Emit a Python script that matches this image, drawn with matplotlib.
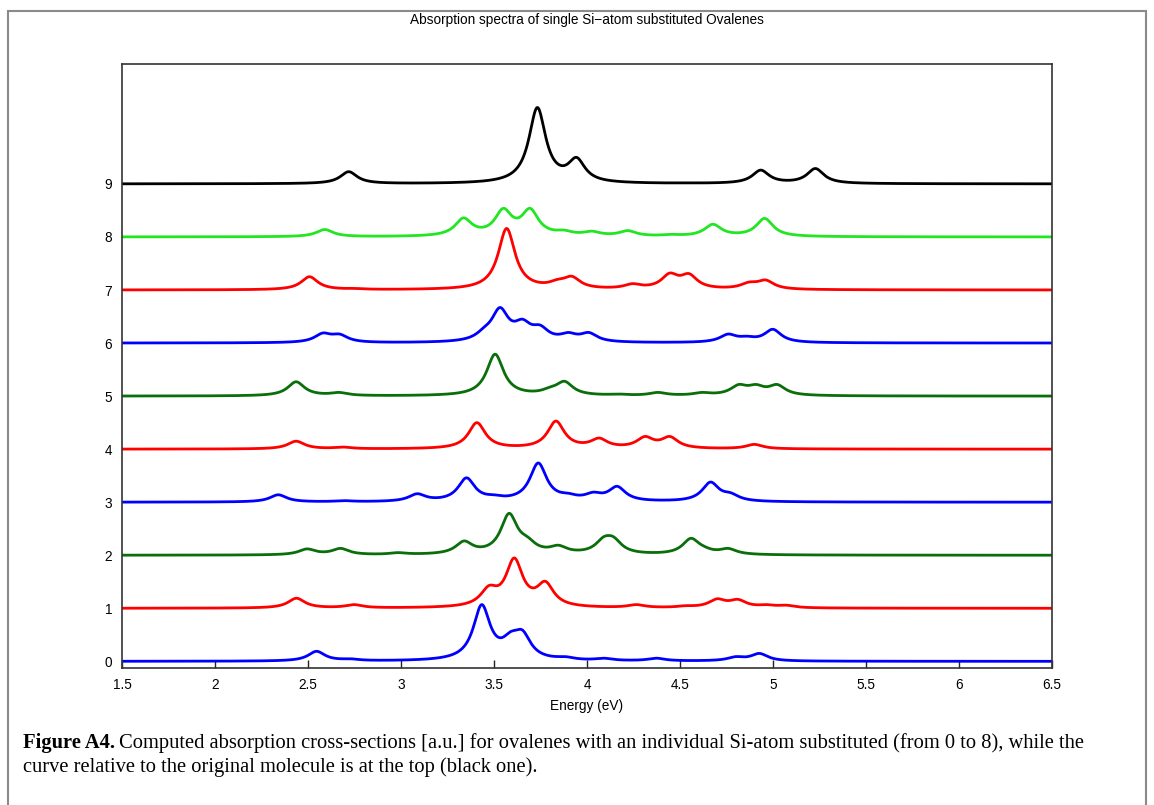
import numpy as np
import matplotlib
matplotlib.use("Agg")
import matplotlib.pyplot as plt
from matplotlib.patches import Rectangle

# ---- data: peak energies (eV) and peak heights (a.u.) of each spectrum ----
curve_labels = ["0", "1", "2", "3", "4", "5", "6", "7", "8", "9"]
curve_colors = ["#0000ff", "#ff0000", "#0a6e0a", "#0000ff", "#ff0000",
                "#0a6e0a", "#0000ff", "#ff0000", "#22e622", "#000000"]

peaks_e0 = [2.546, 2.727, 3.434, 3.589, 3.653, 3.884, 4.09, 4.373, 4.80, 4.927]
peaks_h0 = [0.19, 0.05, 1.07, 0.56, 0.59, 0.09, 0.06, 0.06, 0.09, 0.15]

peaks_e1 = [2.438, 2.747, 3.473, 3.609, 3.776, 4.265, 4.53, 4.700, 4.811, 4.965, 5.07]
peaks_h1 = [0.19, 0.07, 0.43, 0.95, 0.51, 0.07, 0.05, 0.18, 0.17, 0.07, 0.06]

peaks_e2 = [2.495, 2.675, 2.984, 3.339, 3.581, 3.68, 3.846, 4.090, 4.142, 4.559, 4.63, 4.759]
peaks_h2 = [0.12, 0.13, 0.05, 0.27, 0.79, 0.35, 0.19, 0.35, 0.35, 0.32, 0.17, 0.13]

peaks_e3 = [2.340, 2.693, 3.087, 3.352, 3.50, 3.738, 3.90, 4.034, 4.162, 4.664, 4.772]
peaks_h3 = [0.14, 0.03, 0.16, 0.46, 0.14, 0.74, 0.17, 0.19, 0.30, 0.38, 0.18]

peaks_e4 = [2.436, 2.688, 3.408, 3.833, 4.065, 4.312, 4.445, 4.90]
peaks_h4 = [0.15, 0.04, 0.50, 0.53, 0.21, 0.24, 0.24, 0.09]

peaks_e5 = [2.436, 2.667, 3.506, 3.80, 3.879, 4.167, 4.381, 4.618, 4.816, 4.909, 5.022]
peaks_h5 = [0.27, 0.07, 0.79, 0.17, 0.28, 0.04, 0.07, 0.07, 0.22, 0.22, 0.22]

peaks_e6 = [2.580, 2.670, 3.447, 3.532, 3.653, 3.748, 3.90, 4.01, 4.759, 4.86, 4.999]
peaks_h6 = [0.19, 0.17, 0.30, 0.67, 0.45, 0.34, 0.20, 0.20, 0.17, 0.13, 0.26]

peaks_e7 = [2.508, 2.75, 3.568, 3.84, 3.918, 4.245, 4.445, 4.548, 4.87, 4.960]
peaks_h7 = [0.25, 0.03, 1.16, 0.20, 0.26, 0.12, 0.32, 0.31, 0.15, 0.19]

peaks_e8 = [2.590, 3.336, 3.550, 3.694, 3.877, 4.026, 4.219, 4.45, 4.677, 4.955]
peaks_h8 = [0.14, 0.36, 0.54, 0.54, 0.13, 0.11, 0.12, 0.05, 0.24, 0.35]

peaks_e9 = [2.719, 3.733, 3.944, 4.54, 4.934, 5.228]
peaks_h9 = [0.23, 1.44, 0.50, 0.02, 0.26, 0.29]

peak_energies = [peaks_e0, peaks_e1, peaks_e2, peaks_e3, peaks_e4,
                 peaks_e5, peaks_e6, peaks_e7, peaks_e8, peaks_e9]
peak_heights = [peaks_h0, peaks_h1, peaks_h2, peaks_h3, peaks_h4,
                peaks_h5, peaks_h6, peaks_h7, peaks_h8, peaks_h9]

x_ticks = [1.5, 2, 2.5, 3, 3.5, 4, 4.5, 5, 5.5, 6, 6.5]
x_tick_labels = ["1.5", "2", "2.5", "3", "3.5", "4", "4.5", "5", "5.5", "6", "6.5"]

HWHM = 0.055  # Lorentzian broadening (eV)


def lorentz(d):
    return 1.0 / (1.0 + (d / HWHM) ** 2)


def broadened(energy, centers, heights):
    """Lorentzian-broadened spectrum whose values at the listed energies equal the listed heights."""
    c = np.asarray(centers, float)
    h = np.asarray(heights, float)
    A = lorentz(c[:, None] - c[None, :])
    amp = np.linalg.solve(A, h)
    return (amp[None, :] * lorentz(energy[:, None] - c[None, :])).sum(axis=1)


plt.rcParams["font.family"] = ["Liberation Sans", "DejaVu Sans"]

W, H, DPI = 1154, 805, 100
fig = plt.figure(figsize=(W / DPI, H / DPI), dpi=DPI)

# page frame around the figure block
fig.add_artist(Rectangle((8 / W, -0.05), (1146 - 8) / W, 1.05 - 11 / H,
                         transform=fig.transFigure, fill=False,
                         edgecolor="#8a8a8a", linewidth=1.5))

ax = fig.add_axes([122 / W, 1 - 668 / H, (1052 - 122) / W, (668 - 64) / H])

energy = np.linspace(1.5, 6.5, 2001)
for i, (ce, ch, col) in enumerate(zip(peak_energies, peak_heights, curve_colors)):
    ax.plot(energy, i + broadened(energy, ce, ch), color=col, lw=2.0,
            solid_capstyle="butt")

ax.set_xlim(1.5, 6.5)
ax.set_ylim(-0.125, 11.26)
ax.set_xticks(x_ticks)
ax.set_xticklabels(x_tick_labels)
ax.set_yticks(range(len(curve_labels)))
ax.set_yticklabels(curve_labels)
ax.tick_params(axis="x", direction="in", length=6, width=1.0, color="#222222",
               labelsize=9.8, pad=7, top=False)
ax.tick_params(axis="y", direction="in", length=0, labelsize=9.8, pad=7, right=False)
for sp in ax.spines.values():
    sp.set_linewidth(1.2)
    sp.set_color("#333333")

ax.set_xlabel("Energy (eV)", fontsize=9.8, labelpad=5)
ax.set_title("Absorption spectra of single Si\u2212atom substituted Ovalenes",
             fontsize=9.8, pad=0, y=1 + (64 - 19) / (668 - 64) - 0.008)

# caption: bold lead-in followed by regular text
serif = ["Liberation Serif", "DejaVu Serif"]
cap_size = 14.8
renderer = fig.canvas.get_renderer()
lead = fig.text(23 / W, 1 - 743 / H, "Figure A4.", family=serif, weight="bold",
                fontsize=cap_size, va="center", ha="left")
lead_w = lead.get_window_extent(renderer).width
fig.text((23 + lead_w + 4) / W, 1 - 743 / H,
         "Computed absorption cross-sections [a.u.] for ovalenes with an individual "
         "Si-atom substituted (from 0 to 8), while the",
         family=serif, fontsize=cap_size, va="center", ha="left")
fig.text(23 / W, 1 - 767 / H,
         "curve relative to the original molecule is at the top (black one).",
         family=serif, fontsize=cap_size, va="center", ha="left")

fig.savefig("out.png", dpi=DPI)
